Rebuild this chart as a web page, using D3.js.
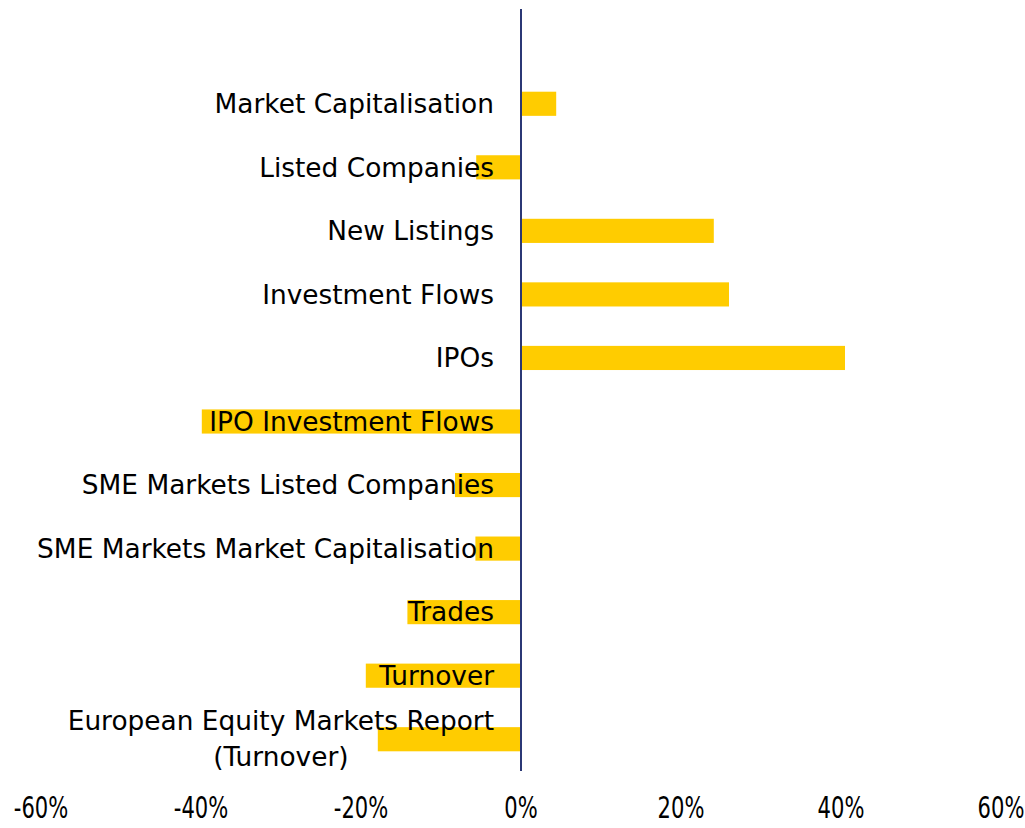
<!DOCTYPE html>
<html>
<head>
<meta charset="utf-8">
<script src="https://cdn.jsdelivr.net/npm/d3@7"></script>
<style>
  body { margin: 0; background: #fff; }
  svg { display: block; }
</style>
</head>
<body>
<svg id="chart" width="1025" height="828"></svg>
<script>
// categories top to bottom, lines split with \n
var categories = [
  'Market Capitalisation',
  'Listed Companies',
  'New Listings',
  'Investment Flows',
  'IPOs',
  'IPO Investment Flows',
  'SME Markets Listed Companies',
  'SME Markets Market Capitalisation',
  'Trades',
  'Turnover',
  'European Equity Markets Report\n(Turnover)'
]
// percent change
var values = [4.4, -5.6, 24.1, 26.0, 40.5, -39.9, -8.25, -5.7, -14.2, -19.4, -17.9]
var ticks = [-60, -40, -20, 0, 20, 40, 60]

var data = categories.map(function (c, i) { return {name: c, value: values[i]} })

var svg = d3.select('#chart')

var x = d3.scaleLinear().domain([-60, 60]).range([41, 1001])
var y = d3.scaleBand().domain(categories).range([72, 771]).paddingInner(0.62).paddingOuter(0.31)

var labelRight = x(0) - 27
var labelFont = "'DejaVu Sans', Verdana, sans-serif"

// bars first, text goes over them
svg.selectAll('rect.bar')
  .data(data)
  .enter().append('rect')
  .attr('class', 'bar')
  .attr('x', function (d) { return x(Math.min(0, d.value)) })
  .attr('y', function (d) { return y(d.name) })
  .attr('width', function (d) { return Math.abs(x(d.value) - x(0)) })
  .attr('height', y.bandwidth())
  .attr('fill', '#ffcc00')

var labels = svg.selectAll('g.label')
  .data(data)
  .enter().append('g')
  .attr('class', 'label')

labels.each(function (d) {
  var g = d3.select(this)
  var lines = d.name.split('\n')
  var cy = y(d.name) + y.bandwidth() / 2
  var lh = 36
  var t = g.append('text')
    .attr('font-family', labelFont)
    .attr('font-size', '26.4px')
    .attr('fill', '#000')
  lines.forEach(function (l, i) {
    t.append('tspan')
      .attr('x', 0)
      .attr('y', cy + (i - (lines.length - 1) / 2) * lh)
      .attr('dy', '0.35em')
      .text(l)
  })
  if (lines.length === 1) {
    t.attr('text-anchor', 'end')
    t.selectAll('tspan').attr('x', labelRight)
  } else {
    // block right aligned, lines centred in it
    var w = t.node().getBBox().width
    t.attr('text-anchor', 'middle')
    t.selectAll('tspan').attr('x', labelRight - w / 2)
  }
})

// zero line
svg.append('line')
  .attr('x1', x(0))
  .attr('x2', x(0))
  .attr('y1', 9)
  .attr('y2', 771)
  .attr('stroke', '#2b3875')
  .attr('stroke-width', 2)

// tick labels, narrow face
svg.selectAll('text.tick')
  .data(ticks)
  .enter().append('text')
  .attr('class', 'tick')
  .attr('transform', function (d) { return 'translate(' + x(d) + ',818) scale(0.68,1)' })
  .attr('text-anchor', 'middle')
  .attr('font-family', "'DejaVu Sans', sans-serif")
  .attr('font-size', '31px')
  .attr('fill', '#000')
  .text(function (d) { return d + '%' })
</script>
</body>
</html>
